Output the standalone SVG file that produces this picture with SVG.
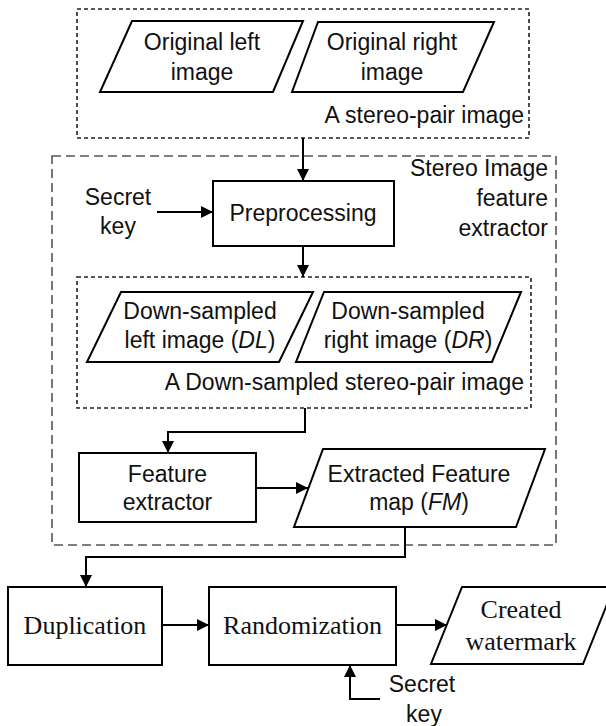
<svg xmlns="http://www.w3.org/2000/svg" width="606" height="726" viewBox="0 0 606 726">
<style>
.box{fill:#fff;stroke:#000;stroke-width:2}
.dshort{fill:none;stroke:#222;stroke-width:1.6;stroke-dasharray:4 3}
.dlong{fill:none;stroke:#555;stroke-width:1.6;stroke-dasharray:9 5}
.sans{font-family:"Liberation Sans",Arial,sans-serif;font-size:23px;fill:#111}
.serif{font-family:"Liberation Serif","Times New Roman",serif;font-size:26px;fill:#111}
.c{text-anchor:middle}
.e{text-anchor:end}
.con{fill:none;stroke:#000;stroke-width:2}
</style>
<defs>
<marker id="arr" markerUnits="userSpaceOnUse" markerWidth="12" markerHeight="12" viewBox="0 0 12 12" refX="12" refY="6" orient="auto">
<path d="M0,0 L12,6 L0,12 Z" fill="#000"/>
</marker>
</defs>
<rect width="606" height="726" fill="#fff"/>

<g id="stereo-pair">
<rect class="dshort" x="77" y="9" width="452" height="129"/>
<text class="sans e" x="524" y="123">A stereo-pair image</text>
</g>
<g id="orig-left">
<polygon class="box" points="132,21 303,21 273,92 100,92"/>
<text class="sans c" x="202" y="50">Original left</text>
<text class="sans c" x="202" y="80">image</text>
</g>
<g id="orig-right">
<polygon class="box" points="318,22 494,22 463,92 292,92"/>
<text class="sans c" x="392" y="50">Original right</text>
<text class="sans c" x="392" y="80">image</text>
</g>

<g id="extractor-group">
<rect class="dlong" x="52" y="156" width="504" height="389"/>
<text class="sans e" x="548" y="176">Stereo Image</text>
<text class="sans e" x="548" y="206">feature</text>
<text class="sans e" x="548" y="236">extractor</text>
</g>
<g id="secret-key-1">
<text class="sans c" x="118" y="205">Secret</text>
<text class="sans c" x="118" y="234">key</text>
</g>
<g id="preprocessing">
<rect class="box" x="213" y="181" width="181" height="65"/>
<text class="sans c" x="303" y="221">Preprocessing</text>
</g>
<g id="downsampled-pair">
<rect class="dshort" x="77" y="277" width="454" height="131"/>
<text class="sans e" x="524" y="390">A Down-sampled stereo-pair image</text>
</g>
<g id="dl">
<polygon class="box" points="121,292 313,292 279,362 87,362"/>
<text class="sans c" x="200" y="319">Down-sampled</text>
<text class="sans c" x="200" y="348">left image (<tspan font-style="italic">DL</tspan>)</text>
</g>
<g id="dr">
<polygon class="box" points="324,292 521,292 492,362 296,362"/>
<text class="sans c" x="408" y="319">Down-sampled</text>
<text class="sans c" x="408" y="348">right image (<tspan font-style="italic">DR</tspan>)</text>
</g>
<g id="feature-extractor">
<rect class="box" x="79" y="453" width="177" height="69"/>
<text class="sans c" x="167.5" y="482">Feature</text>
<text class="sans c" x="167.5" y="510">extractor</text>
</g>
<g id="fm">
<polygon class="box" points="323,449 545,449 516,527 294,527"/>
<text class="sans c" x="419" y="482">Extracted Feature</text>
<text class="sans c" x="419" y="510">map (<tspan font-style="italic">FM</tspan>)</text>
</g>

<g id="duplication">
<rect class="box" x="8" y="587" width="154" height="78"/>
<text class="serif c" x="85" y="634">Duplication</text>
</g>
<g id="randomization">
<rect class="box" x="209" y="587" width="187" height="78"/>
<text class="serif c" x="302.5" y="634">Randomization</text>
</g>
<g id="watermark">
<polygon class="box" points="462,587 614,587 583,664 431,664"/>
<text class="serif c" x="521" y="618">Created</text>
<text class="serif c" x="521" y="650">watermark</text>
</g>
<g id="secret-key-2">
<text class="sans c" x="422" y="692">Secret</text>
<text class="sans c" x="424" y="722">key</text>
</g>

<g id="connectors">
<path class="con" d="M303,138 L303,181" marker-end="url(#arr)"/>
<path class="con" d="M157,212 L213,212" marker-end="url(#arr)"/>
<path class="con" d="M303,246 L303,277" marker-end="url(#arr)"/>
<path class="con" d="M305,408 L305,432 L168,432 L168,453" marker-end="url(#arr)"/>
<path class="con" d="M256,488 L308,488" marker-end="url(#arr)"/>
<path class="con" d="M405,527 L405,557 L86,557 L86,587" marker-end="url(#arr)"/>
<path class="con" d="M162,625 L209,625" marker-end="url(#arr)"/>
<path class="con" d="M396,625 L447,625" marker-end="url(#arr)"/>
<path class="con" d="M380,699 L350,699 L350,665" marker-end="url(#arr)"/>
</g>
</svg>
